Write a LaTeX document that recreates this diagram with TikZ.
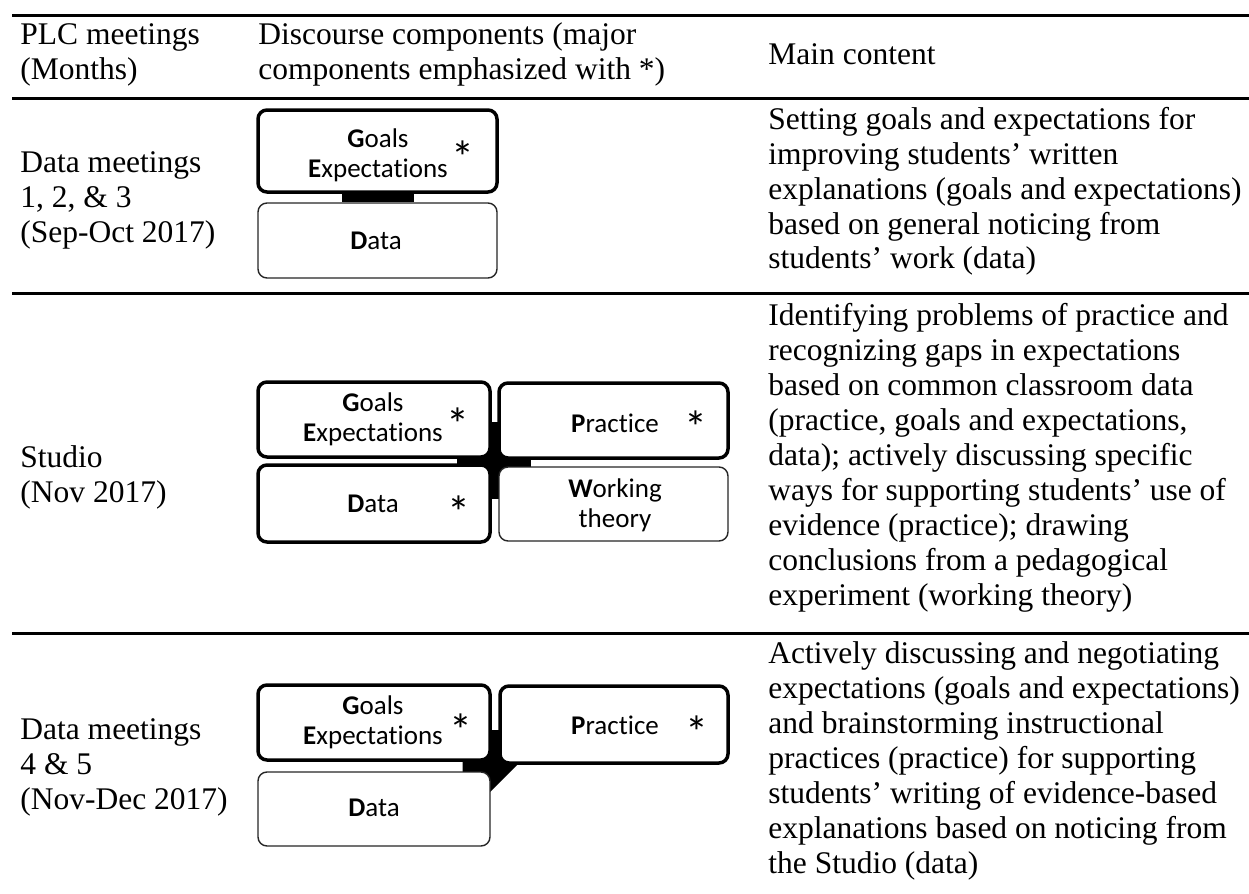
\documentclass[tikz,border=0pt]{standalone}
\usepackage{fontspec}
\setmainfont[Ligatures=NoCommon]{Liberation Serif}
\newfontfamily\calfont[Ligatures=NoCommon]{Carlito}
\usetikzlibrary{fit,backgrounds,calc}
\newcommand\mycell[1]{\begin{tabular}[t]{@{}l@{}}#1\end{tabular}}
\newcommand\btwo[2]{\begin{tabular}[t]{@{}c@{}}#1\\#2\end{tabular}}
\begin{document}
\begin{tikzpicture}[x=0.5pt,y=-0.5pt,
 txt/.style={inner sep=0pt, anchor=base west, font=\fontsize{15.75}{17.5}\selectfont},
 rulel/.style={line width=1.5pt},
 bx/.style={rounded corners=4.5pt, fill=white, inner sep=0pt},
 thickbx/.style={bx, draw=black, line width=1.75pt},
 thinbx/.style={bx, draw=black!85, line width=0.7pt},
 btxt/.style={inner sep=0pt, anchor=base, font=\calfont\fontsize{13.5}{15}\selectfont},
 star/.style={inner sep=0pt, anchor=base, font=\calfont\fontsize{23}{23}\selectfont},
 link/.style={fill=black}]
\useasboundingbox (0,0) rectangle (1249,894);

% rules
\coordinate (r0a) at (12,15);  \coordinate (r0b) at (1249,15);
\coordinate (r1a) at (12,98);  \coordinate (r1b) at (1249,98);
\coordinate (r2a) at (12,293); \coordinate (r2b) at (1249,293);
\coordinate (r3a) at (12,633); \coordinate (r3b) at (1249,633);
\draw[rulel] (r0a) -- (r0b);
\draw[rulel] (r1a) -- (r1b);
\draw[rulel] (r2a) -- (r2b);
\draw[rulel] (r3a) -- (r3b);

% header
\node[txt] (h1) at (20,44) {\mycell{PLC meetings\\(Months)}};
\node[txt] (h2) at (258,44) {\mycell{Discourse components (major\\components emphasized with *)}};
\node[txt] (h3) at (768,64) {Main content};

% row 1
\node[txt] (a1) at (20,172) {\mycell{Data meetings\\1, 2, \& 3\\(Sep-Oct 2017)}};
\node[txt] (c1) at (768,129) {\mycell{Setting goals and expectations for\\improving students’ written\\explanations (goals and expectations)\\based on general noticing from\\students’ work (data)}};
\node[thickbx, fit={(258,110) (497,192)}] (g1) {};
\node[thinbx, fit={(258,203) (497,278)}] (d1) {};
\node[btxt] (g1t) at (378,147) {\btwo{\textbf{G}oals}{\textbf{E}xpectations}};
\node[btxt] (d1t) at (376,249) {\textbf{D}ata};
\node[star] (s1) at (463,173) {*};

% row 2
\node[txt] (a2) at (20,467) {\mycell{Studio\\(Nov 2017)}};
\node[txt] (c2) at (768,325) {\mycell{Identifying problems of practice and\\recognizing gaps in expectations\\based on common classroom data\\(practice, goals and expectations,\\data); actively discussing specific\\ways for supporting students’ use of\\evidence (practice); drawing\\conclusions from a pedagogical\\experiment (working theory)}};
\node[thickbx, fit={(258,382) (490,457)}] (g2) {};
\node[thickbx, fit={(499,383) (728,458)}] (p2) {};
\node[thickbx, fit={(258,465) (490,542)}] (d2) {};
\node[thinbx, fit={(499,467) (728,541)}] (w2) {};
\node[btxt] (g2t) at (373,411) {\btwo{\textbf{G}oals}{\textbf{E}xpectations}};
\node[btxt] (p2t) at (615,432) {\textbf{P}ractice};
\node[btxt] (d2t) at (373,512) {\textbf{D}ata};
\node[btxt] (w2t) at (615,497) {\btwo{\textbf{W}orking}{theory}};
\node[star] (s2g) at (458,440) {*};
\node[star] (s2p) at (696,443) {*};
\node[star] (s2d) at (459,528) {*};

% row 3
\node[txt] (a3) at (20,739) {\mycell{Data meetings\\4 \& 5\\(Nov-Dec 2017)}};
\node[txt] (c3) at (768,663) {\mycell{Actively discussing and negotiating\\expectations (goals and expectations)\\and brainstorming instructional\\practices (practice) for supporting\\students’ writing of evidence-based\\explanations based on noticing from\\the Studio (data)}};
\node[thickbx, fit={(258,685) (490,760)}] (g3) {};
\node[thickbx, fit={(500,686) (728,763)}] (p3) {};
\node[thinbx, fit={(258,772) (490,846)}] (d3) {};
\node[btxt] (g3t) at (373,714) {\btwo{\textbf{G}oals}{\textbf{E}xpectations}};
\node[btxt] (p3t) at (615,734) {\textbf{P}ractice};
\node[btxt] (d3t) at (374,816) {\textbf{D}ata};
\node[star] (s3g) at (461,746) {*};
\node[star] (s3p) at (697,748) {*};

% connectors
\begin{scope}[on background layer]
 \draw[line width=36pt] (g1.south) -- (d1.north);
 \fill[link] ($(g2.south east)+(-8,-37)$) rectangle ($(w2.north west)+(8,33)$);
 \fill[link] ($(g2.south east)+(-35,-7)$) rectangle ($(w2.north west)+(33,5)$);
 \fill[link] ($(g3.south east)+(-8,-32)$) rectangle ($(p3.south west)+(8,0)$);
 \fill[link] ($(d3.north east)+(-28,-20)$) -- ($(d3.north east)+(40,-20)$)
   -- ($(d3.north east)+(-8,28)$) -- ($(d3.north east)+(-28,28)$) -- cycle;
\end{scope}
\end{tikzpicture}
\end{document}
